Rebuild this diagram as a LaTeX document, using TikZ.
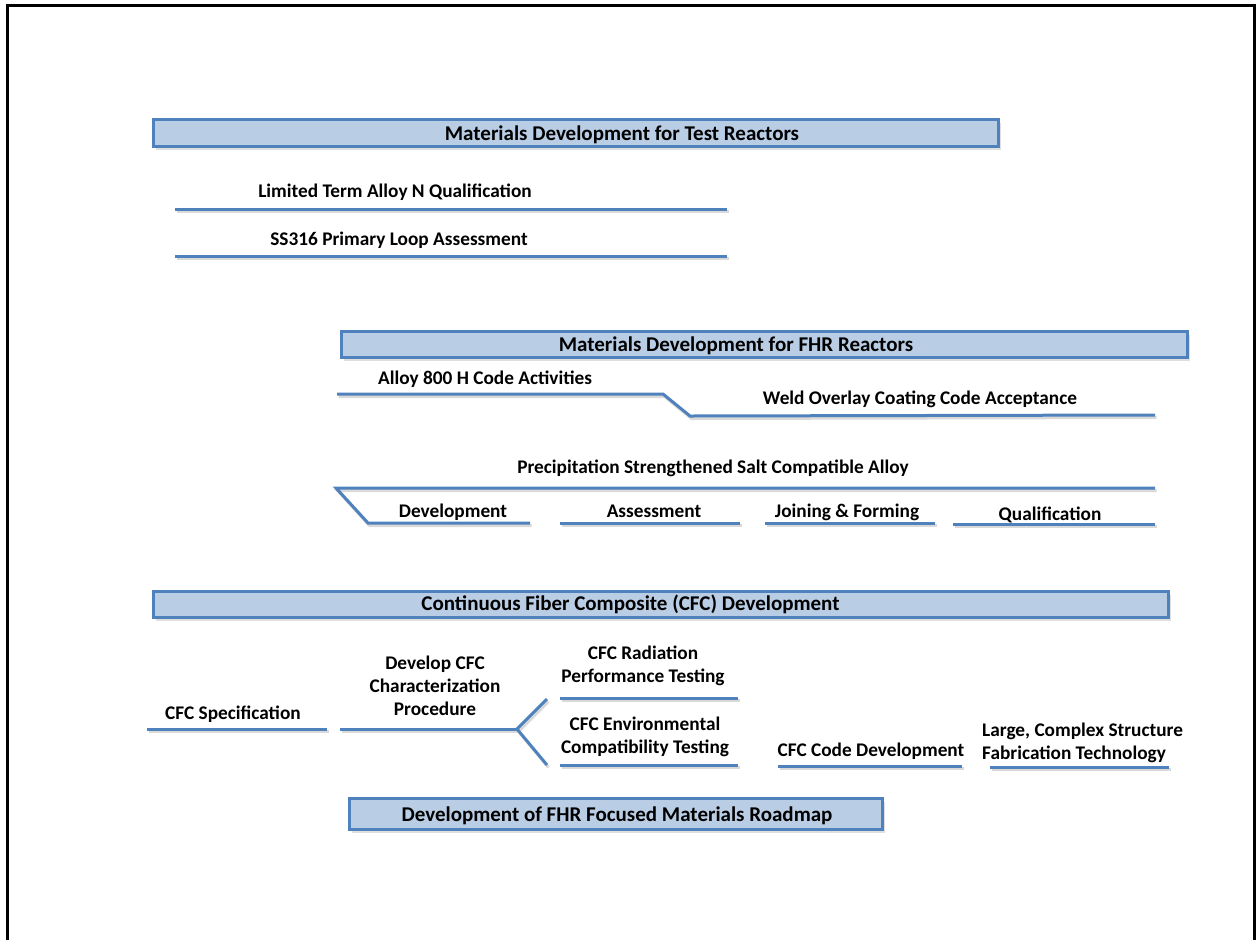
\documentclass[tikz,border=0pt]{standalone}
\usepackage{fontspec}
\setmainfont{Carlito}
\usetikzlibrary{shadows}
\definecolor{barfill}{HTML}{B9CDE5}
\definecolor{barline}{HTML}{4F81BD}
\tikzset{
	bar/.style={draw=barline, fill=barfill, line width=3pt, inner sep=0pt,
		drop shadow={opacity=0.25, shadow xshift=2pt, shadow yshift=-3pt}},
	task/.style={draw=barline, line width=3pt,
		preaction={draw=black!15, line width=3pt, transform canvas={xshift=1.5pt, yshift=-2.5pt}}},
	lbl/.style={font=\bfseries\fontsize{19.3}{23}\selectfont, anchor=base, inner sep=0pt, align=center},
	title/.style={lbl, font=\bfseries\fontsize{21}{25}\selectfont}
}
\begin{document}
\begin{tikzpicture}[x=1pt, y=-1pt]
	\useasboundingbox (0,0) rectangle (1257,940);
	\draw[line width=3pt] (7,940) -- (7,5) -- (1254,5) -- (1254,940);
	% section bars
	\node[bar, minimum width=845, minimum height=27] at (576,133) (testbar) {};
	\node[bar, minimum width=846, minimum height=26] at (764.5,344.5) (fhrbar) {};
	\node[bar, minimum width=1015, minimum height=26] at (661,604.5) (cfcbar) {};
	\node[bar, minimum width=533, minimum height=31] at (616,814) (mapbar) {};
	\node[title] at (622,140.5) (testtitle) {Materials Development for Test Reactors};
	\node[title] at (736,351.5) (fhrtitle) {Materials Development for FHR Reactors};
	\node[title] at (630.5,610.5) (cfctitle) {Continuous Fiber Composite (CFC) Development};
	\node[title] at (617,821.5) (maptitle) {Development of FHR Focused Materials Roadmap};
	% test reactors
	\node[lbl] at (395,197) (alloyn) {Limited Term Alloy N Qualification};
	\node[lbl] at (399,245) (ss316) {SS316 Primary Loop Assessment};
	\coordinate (alloynl) at (175,209);
	\coordinate (alloynr) at (727,209);
	\coordinate (ss316l) at (175,256);
	\coordinate (ss316r) at (727,256);
	\path (alloynl) edge[task] (alloynr)
	(ss316l) edge[task] (ss316r);
	% fhr reactors
	\node[lbl] at (485,384) (a800) {Alloy 800 H Code Activities};
	\node[lbl] at (920,404) (weld) {Weld Overlay Coating Code Acceptance};
	\coordinate (a800l) at (337,394);
	\coordinate (a800r) at (663,394);
	\coordinate (weldl) at (690,416);
	\coordinate (weldr) at (1155,415);
	\draw[task] (a800l) -- (a800r) -- (weldl) -- (weldr);
	\node[lbl] at (713,473) (salt) {Precipitation Strengthened Salt Compatible Alloy};
	\node[lbl] at (453,517) (dev) {Development};
	\node[lbl] at (654,517) (assess) {Assessment};
	\node[lbl] at (847,517) (join) {Joining \& Forming};
	\node[lbl] at (1050,520) (qual) {Qualification};
	\coordinate (saltl) at (336,488);
	\coordinate (saltr) at (1155,488);
	\coordinate (devl) at (368,523);
	\coordinate (devr) at (530,523);
	\coordinate (assessl) at (560,523);
	\coordinate (assessr) at (740,523);
	\coordinate (joinl) at (765,523);
	\coordinate (joinr) at (935,523);
	\coordinate (quall) at (953,524);
	\coordinate (qualr) at (1155,524);
	\draw[task] (saltr) -- (saltl) -- (devl) -- (devr);
	\path (assessl) edge[task] (assessr)
	(joinl) edge[task] (joinr)
	(quall) edge[task] (qualr);
	% cfc
	\node[lbl] at (233,719) (spec) {CFC Specification};
	\node[lbl] at (435,715) (charac) {Develop CFC\\Characterization\\Procedure};
	\node[lbl] at (643,682) (rad) {CFC Radiation\\Performance Testing};
	\node[lbl] at (645,753) (env) {CFC Environmental\\Compatibility Testing};
	\node[lbl] at (871,756) (code) {CFC Code Development};
	\node[lbl, anchor=base west, align=left] at (982,759) (large) {Large, Complex Structure\\Fabrication Technology};
	\coordinate (specl) at (147,729);
	\coordinate (specr) at (327,729);
	\coordinate (characl) at (340,729);
	\coordinate (fork) at (517,729);
	\coordinate (forkup) at (547,699);
	\coordinate (forkdown) at (547,765);
	\coordinate (radl) at (560,698);
	\coordinate (radr) at (738,698);
	\coordinate (envl) at (560,765);
	\coordinate (envr) at (738,765);
	\coordinate (codel) at (778,766);
	\coordinate (coder) at (962,766);
	\coordinate (largel) at (990,767);
	\coordinate (larger) at (1169,767);
	\path (specl) edge[task] (specr)
	(characl) edge[task] (fork)
	(radl) edge[task] (radr)
	(envl) edge[task] (envr)
	(codel) edge[task] (coder)
	(largel) edge[task] (larger);
	\draw[task] (forkup) -- (fork) -- (forkdown);
\end{tikzpicture}
\end{document}
